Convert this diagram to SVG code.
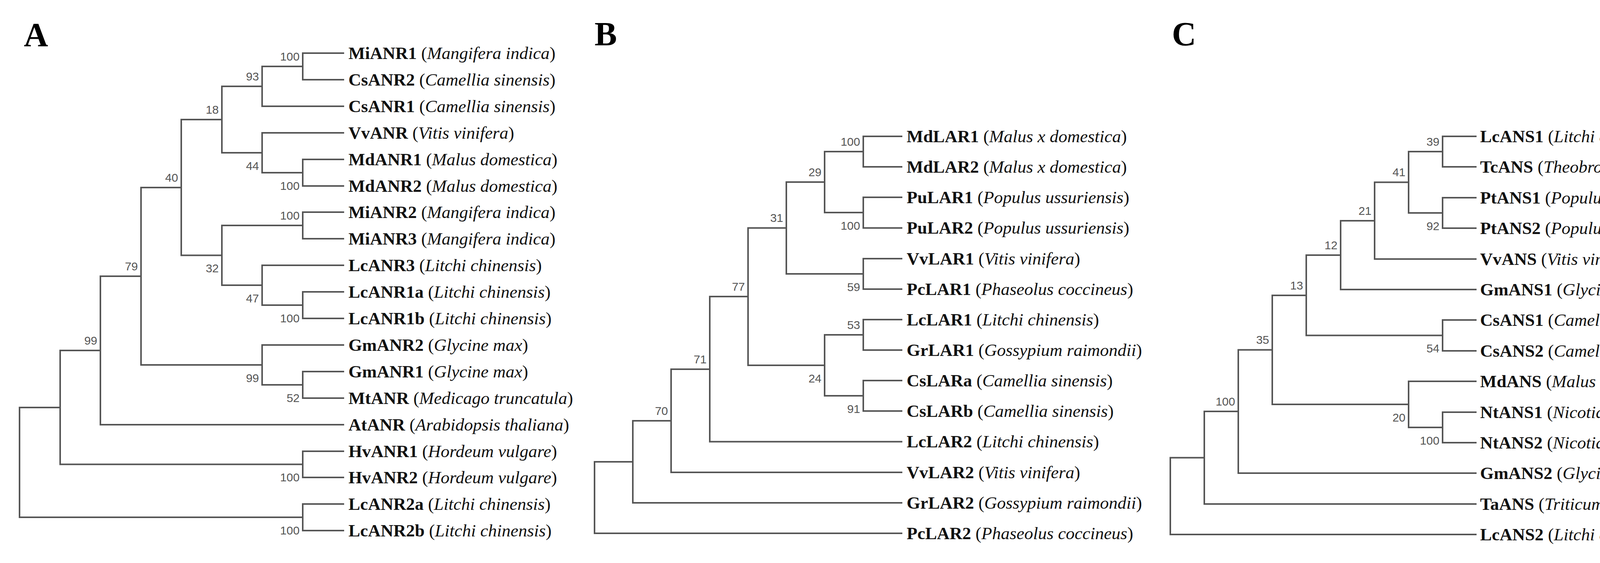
<svg xmlns="http://www.w3.org/2000/svg" width="4397" height="1441" viewBox="0 0 4397 1441">
<style>
.e{fill:none;stroke:#555;stroke-width:4;stroke-linecap:square}
.b{font-family:"Liberation Sans Narrow","Liberation Sans",Arial,sans-serif;font-size:30px;fill:#555;text-anchor:end}
.l{font-family:"Liberation Serif","Times New Roman",serif;font-size:45px;fill:#111}
.g{font-weight:bold}
.s{font-style:italic}
.p{font-family:"Liberation Serif","Times New Roman",serif;font-size:86px;font-weight:bold;fill:#000}
</style>
<rect width="4397" height="1441" fill="#fff"/>
<g id="panel-labels">
<text class="p" x="61" y="118">A</text>
<text class="p" x="1522" y="116">B</text>
<text class="p" x="3000" y="116">C</text>
</g>
<g id="connectors">
<path class="e" d="M879 136 H775 V204 H879"/>
<path class="e" d="M775 170 H671 V272 H879"/>
<path class="e" d="M879 408 H775 V476 H879"/>
<path class="e" d="M879 340 H671 V442 H775"/>
<path class="e" d="M671 221 H568 V391 H671"/>
<path class="e" d="M879 543 H775 V611 H879"/>
<path class="e" d="M879 747 H775 V815 H879"/>
<path class="e" d="M879 679 H671 V781 H775"/>
<path class="e" d="M775 577 H568 V730 H671"/>
<path class="e" d="M568 306 H464 V653.5 H568"/>
<path class="e" d="M879 951 H775 V1019 H879"/>
<path class="e" d="M879 883 H671 V985 H775"/>
<path class="e" d="M464 480 H361 V934 H671"/>
<path class="e" d="M361 707 H257 V1087 H879"/>
<path class="e" d="M879 1155 H775 V1222 H879"/>
<path class="e" d="M257 897 H154 V1188.5 H775"/>
<path class="e" d="M879 1290 H775 V1358 H879"/>
<path class="e" d="M154 1043 H50 V1324 H775"/>

<path class="e" d="M2308 349 H2210 V427 H2308"/>
<path class="e" d="M2308 505 H2210 V583.5 H2308"/>
<path class="e" d="M2210 388 H2111 V544 H2210"/>
<path class="e" d="M2308 662 H2210 V740 H2308"/>
<path class="e" d="M2111 466 H2013 V701 H2210"/>
<path class="e" d="M2308 818 H2210 V896 H2308"/>
<path class="e" d="M2308 974 H2210 V1052 H2308"/>
<path class="e" d="M2210 857 H2111 V1013 H2210"/>
<path class="e" d="M2013 583.5 H1915 V935 H2111"/>
<path class="e" d="M1915 759 H1817 V1130.5 H2308"/>
<path class="e" d="M1817 945 H1718 V1209 H2308"/>
<path class="e" d="M1718 1077 H1620 V1287 H2308"/>
<path class="e" d="M1620 1182 H1522 V1365 H2308"/>

<path class="e" d="M3778 349 H3693 V427 H3778"/>
<path class="e" d="M3778 506 H3693 V584 H3778"/>
<path class="e" d="M3693 388 H3606 V545 H3693"/>
<path class="e" d="M3606 466.5 H3519 V663 H3778"/>
<path class="e" d="M3519 565 H3432 V741 H3778"/>
<path class="e" d="M3778 819 H3693 V898 H3778"/>
<path class="e" d="M3432 653 H3344 V858.5 H3693"/>
<path class="e" d="M3778 1055 H3693 V1133 H3778"/>
<path class="e" d="M3778 976 H3606 V1094 H3693"/>
<path class="e" d="M3344 756 H3257 V1035 H3606"/>
<path class="e" d="M3257 895.5 H3170 V1211 H3778"/>
<path class="e" d="M3170 1053 H3083 V1290 H3778"/>
<path class="e" d="M3083 1171.5 H2996 V1368 H3778"/>
</g>
<g id="bootstrap">
<text class="b" x="767" y="155">100</text>
<text class="b" x="663" y="206">93</text>
<text class="b" x="767" y="486">100</text>
<text class="b" x="663" y="435">44</text>
<text class="b" x="560" y="291">18</text>
<text class="b" x="767" y="562">100</text>
<text class="b" x="767" y="825">100</text>
<text class="b" x="663" y="774">47</text>
<text class="b" x="560" y="697">32</text>
<text class="b" x="456" y="465">40</text>
<text class="b" x="767" y="1029">52</text>
<text class="b" x="663" y="978">99</text>
<text class="b" x="353" y="692">79</text>
<text class="b" x="249" y="882">99</text>
<text class="b" x="767" y="1232">100</text>
<text class="b" x="767" y="1368">100</text>

<text class="b" x="2202" y="373">100</text>
<text class="b" x="2202" y="588">100</text>
<text class="b" x="2103" y="451">29</text>
<text class="b" x="2202" y="745">59</text>
<text class="b" x="2005" y="568">31</text>
<text class="b" x="2202" y="842">53</text>
<text class="b" x="2202" y="1057">91</text>
<text class="b" x="2103" y="979">24</text>
<text class="b" x="1907" y="744">77</text>
<text class="b" x="1809" y="930">71</text>
<text class="b" x="1710" y="1062">70</text>

<text class="b" x="3685" y="373">39</text>
<text class="b" x="3685" y="589">92</text>
<text class="b" x="3598" y="451">41</text>
<text class="b" x="3511" y="550">21</text>
<text class="b" x="3424" y="638">12</text>
<text class="b" x="3685" y="902">54</text>
<text class="b" x="3336" y="741">13</text>
<text class="b" x="3685" y="1138">100</text>
<text class="b" x="3598" y="1079">20</text>
<text class="b" x="3249" y="880">35</text>
<text class="b" x="3162" y="1038">100</text>
</g>
<g id="leaves-A">
<g id="MiANR1"><text class="l" x="892" y="151"><tspan class="g">MiANR1</tspan> (<tspan class="s">Mangifera indica</tspan>)</text></g>
<g id="CsANR2"><text class="l" x="892" y="219"><tspan class="g">CsANR2</tspan> (<tspan class="s">Camellia sinensis</tspan>)</text></g>
<g id="CsANR1"><text class="l" x="892" y="287"><tspan class="g">CsANR1</tspan> (<tspan class="s">Camellia sinensis</tspan>)</text></g>
<g id="VvANR"><text class="l" x="892" y="355"><tspan class="g">VvANR</tspan> (<tspan class="s">Vitis vinifera</tspan>)</text></g>
<g id="MdANR1"><text class="l" x="892" y="423"><tspan class="g">MdANR1</tspan> (<tspan class="s">Malus domestica</tspan>)</text></g>
<g id="MdANR2"><text class="l" x="892" y="491"><tspan class="g">MdANR2</tspan> (<tspan class="s">Malus domestica</tspan>)</text></g>
<g id="MiANR2"><text class="l" x="892" y="558"><tspan class="g">MiANR2</tspan> (<tspan class="s">Mangifera indica</tspan>)</text></g>
<g id="MiANR3"><text class="l" x="892" y="626"><tspan class="g">MiANR3</tspan> (<tspan class="s">Mangifera indica</tspan>)</text></g>
<g id="LcANR3"><text class="l" x="892" y="694"><tspan class="g">LcANR3</tspan> (<tspan class="s">Litchi chinensis</tspan>)</text></g>
<g id="LcANR1a"><text class="l" x="892" y="762"><tspan class="g">LcANR1a</tspan> (<tspan class="s">Litchi chinensis</tspan>)</text></g>
<g id="LcANR1b"><text class="l" x="892" y="830"><tspan class="g">LcANR1b</tspan> (<tspan class="s">Litchi chinensis</tspan>)</text></g>
<g id="GmANR2"><text class="l" x="892" y="898"><tspan class="g">GmANR2</tspan> (<tspan class="s">Glycine max</tspan>)</text></g>
<g id="GmANR1"><text class="l" x="892" y="966"><tspan class="g">GmANR1</tspan> (<tspan class="s">Glycine max</tspan>)</text></g>
<g id="MtANR"><text class="l" x="892" y="1034"><tspan class="g">MtANR</tspan> (<tspan class="s">Medicago truncatula</tspan>)</text></g>
<g id="AtANR"><text class="l" x="892" y="1102"><tspan class="g">AtANR</tspan> (<tspan class="s">Arabidopsis thaliana</tspan>)</text></g>
<g id="HvANR1"><text class="l" x="892" y="1170"><tspan class="g">HvANR1</tspan> (<tspan class="s">Hordeum vulgare</tspan>)</text></g>
<g id="HvANR2"><text class="l" x="892" y="1237"><tspan class="g">HvANR2</tspan> (<tspan class="s">Hordeum vulgare</tspan>)</text></g>
<g id="LcANR2a"><text class="l" x="892" y="1305"><tspan class="g">LcANR2a</tspan> (<tspan class="s">Litchi chinensis</tspan>)</text></g>
<g id="LcANR2b"><text class="l" x="892" y="1373"><tspan class="g">LcANR2b</tspan> (<tspan class="s">Litchi chinensis</tspan>)</text></g>
</g>
<g id="leaves-B">
<g id="MdLAR1"><text class="l" x="2321" y="364"><tspan class="g">MdLAR1</tspan> (<tspan class="s">Malus x domestica</tspan>)</text></g>
<g id="MdLAR2"><text class="l" x="2321" y="442"><tspan class="g">MdLAR2</tspan> (<tspan class="s">Malus x domestica</tspan>)</text></g>
<g id="PuLAR1"><text class="l" x="2321" y="520"><tspan class="g">PuLAR1</tspan> (<tspan class="s">Populus ussuriensis</tspan>)</text></g>
<g id="PuLAR2"><text class="l" x="2321" y="598"><tspan class="g">PuLAR2</tspan> (<tspan class="s">Populus ussuriensis</tspan>)</text></g>
<g id="VvLAR1"><text class="l" x="2321" y="677"><tspan class="g">VvLAR1</tspan> (<tspan class="s">Vitis vinifera</tspan>)</text></g>
<g id="PcLAR1"><text class="l" x="2321" y="755"><tspan class="g">PcLAR1</tspan> (<tspan class="s">Phaseolus coccineus</tspan>)</text></g>
<g id="LcLAR1"><text class="l" x="2321" y="833"><tspan class="g">LcLAR1</tspan> (<tspan class="s">Litchi chinensis</tspan>)</text></g>
<g id="GrLAR1"><text class="l" x="2321" y="911"><tspan class="g">GrLAR1</tspan> (<tspan class="s">Gossypium raimondii</tspan>)</text></g>
<g id="CsLARa"><text class="l" x="2321" y="989"><tspan class="g">CsLARa</tspan> (<tspan class="s">Camellia sinensis</tspan>)</text></g>
<g id="CsLARb"><text class="l" x="2321" y="1067"><tspan class="g">CsLARb</tspan> (<tspan class="s">Camellia sinensis</tspan>)</text></g>
<g id="LcLAR2"><text class="l" x="2321" y="1145"><tspan class="g">LcLAR2</tspan> (<tspan class="s">Litchi chinensis</tspan>)</text></g>
<g id="VvLAR2"><text class="l" x="2321" y="1224"><tspan class="g">VvLAR2</tspan> (<tspan class="s">Vitis vinifera</tspan>)</text></g>
<g id="GrLAR2"><text class="l" x="2321" y="1302"><tspan class="g">GrLAR2</tspan> (<tspan class="s">Gossypium raimondii</tspan>)</text></g>
<g id="PcLAR2"><text class="l" x="2321" y="1380"><tspan class="g">PcLAR2</tspan> (<tspan class="s">Phaseolus coccineus</tspan>)</text></g>
</g>
<g id="leaves-C">
<g id="LcANS1"><text class="l" x="3789" y="364"><tspan class="g">LcANS1</tspan> (<tspan class="s">Litchi chinensis</tspan>)</text></g>
<g id="TcANS"><text class="l" x="3789" y="442"><tspan class="g">TcANS</tspan> (<tspan class="s">Theobroma cacao</tspan>)</text></g>
<g id="PtANS1"><text class="l" x="3789" y="521"><tspan class="g">PtANS1</tspan> (<tspan class="s">Populus trichocarpa</tspan>)</text></g>
<g id="PtANS2"><text class="l" x="3789" y="599"><tspan class="g">PtANS2</tspan> (<tspan class="s">Populus trichocarpa</tspan>)</text></g>
<g id="VvANS"><text class="l" x="3789" y="678"><tspan class="g">VvANS</tspan> (<tspan class="s">Vitis vinifera</tspan>)</text></g>
<g id="GmANS1"><text class="l" x="3789" y="756"><tspan class="g">GmANS1</tspan> (<tspan class="s">Glycine max</tspan>)</text></g>
<g id="CsANS1"><text class="l" x="3789" y="834"><tspan class="g">CsANS1</tspan> (<tspan class="s">Camellia sinensis</tspan>)</text></g>
<g id="CsANS2"><text class="l" x="3789" y="913"><tspan class="g">CsANS2</tspan> (<tspan class="s">Camellia sinensis</tspan>)</text></g>
<g id="MdANS"><text class="l" x="3789" y="991"><tspan class="g">MdANS</tspan> (<tspan class="s">Malus domestica</tspan>)</text></g>
<g id="NtANS1"><text class="l" x="3789" y="1070"><tspan class="g">NtANS1</tspan> (<tspan class="s">Nicotiana tabacum</tspan>)</text></g>
<g id="NtANS2"><text class="l" x="3789" y="1148"><tspan class="g">NtANS2</tspan> (<tspan class="s">Nicotiana tabacum</tspan>)</text></g>
<g id="GmANS2"><text class="l" x="3789" y="1226"><tspan class="g">GmANS2</tspan> (<tspan class="s">Glycine max</tspan>)</text></g>
<g id="TaANS"><text class="l" x="3789" y="1305"><tspan class="g">TaANS</tspan> (<tspan class="s">Triticum aestivum</tspan>)</text></g>
<g id="LcANS2"><text class="l" x="3789" y="1383"><tspan class="g">LcANS2</tspan> (<tspan class="s">Litchi chinensis</tspan>)</text></g>
</g>
</svg>
